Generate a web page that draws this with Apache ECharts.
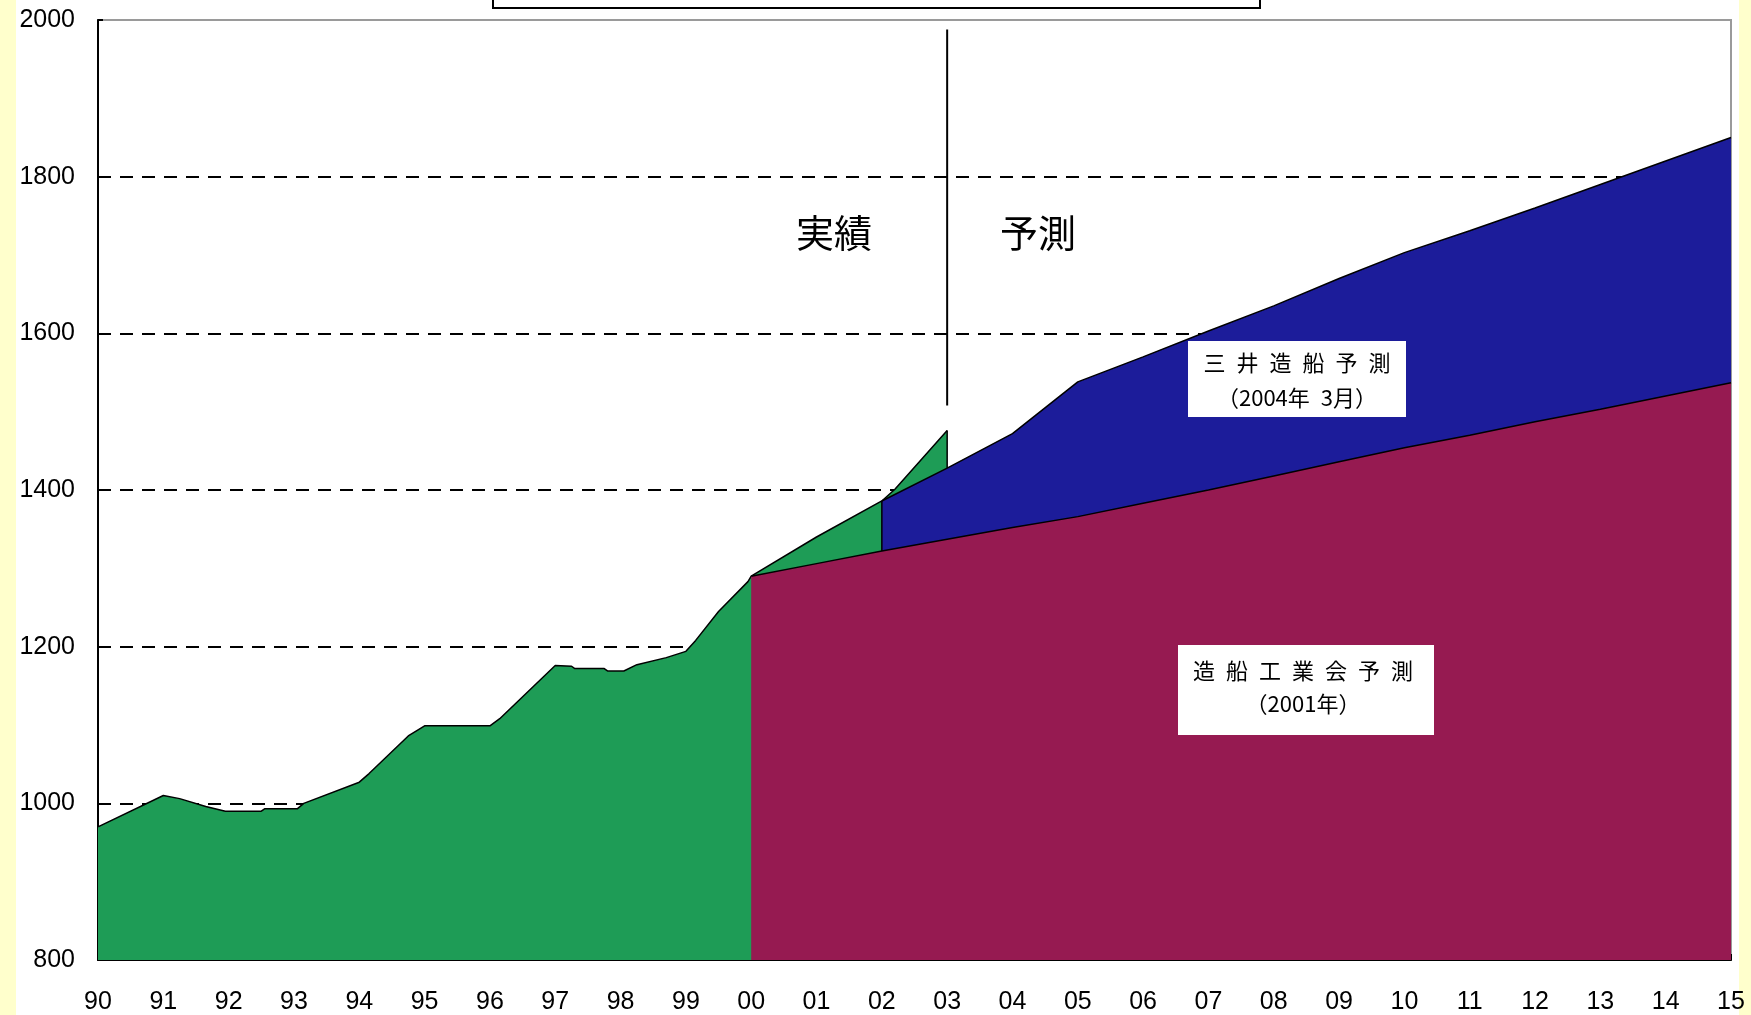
<!DOCTYPE html>
<html>
<head>
<meta charset="utf-8">
<script src="https://cdn.jsdelivr.net/npm/echarts@6/dist/echarts.min.js"></script>
<style>
html,body{margin:0;padding:0;background:#ffffff;}
#main{width:1751px;height:1015px;}
</style>
</head>
<body>
<div id="main"></div>
<script>
// ---- data ----
const yearLabels = ['90','91','92','93','94','95','96','97','98','99','00','01','02','03','04','05','06','07','08','09','10','11','12','13','14','15'];
const yTicks = [800, 1000, 1200, 1400, 1600, 1800, 2000];

// 実績 (actual)
const actualYears  = [1990, 1991, 1991.25, 1991.65, 1991.95, 1992.5, 1992.55, 1993.05, 1993.15, 1994, 1994.15, 1994.75, 1995, 1996, 1996.15, 1997, 1997.25, 1997.3, 1997.75, 1997.8, 1998.05, 1998.25, 1998.7, 1999, 1999.15, 1999.5, 1999.95, 2000, 2001, 2002, 2002.2, 2003];
const actualValues = [970, 1010, 1006, 996, 990, 990, 993, 993, 1000, 1027, 1038, 1086, 1099, 1099, 1108, 1176, 1175, 1172, 1172, 1169, 1169, 1177, 1186, 1194, 1208, 1245, 1283, 1290, 1340, 1386, 1401, 1476];

// 造船工業会予測（2001年）
const sajYears  = [2000, 2001, 2002, 2003, 2004, 2005, 2006, 2007, 2008, 2009, 2010, 2011, 2012, 2013, 2014, 2015];
const sajValues = [1290, 1306, 1322, 1337, 1352, 1366, 1383, 1400, 1418, 1436, 1454, 1470, 1487, 1503, 1520, 1537];

// 三井造船予測（2004年3月）
const mitsuiYears  = [2002, 2003, 2004, 2005, 2006, 2007, 2008, 2009, 2010, 2011, 2012, 2013, 2014, 2015];
const mitsuiValues = [1386, 1428, 1472, 1538, 1570, 1603, 1635, 1670, 1703, 1731, 1760, 1790, 1820, 1850];

// divider between 実績 and 予測
const dividerYear = 2003;
const dividerRange = [1508, 1988];

// ---- build ----
const pairs = (xs, ys) => xs.map((x, i) => [x, ys[i]]);
const valueAt = (xs, ys, x) => ys[xs.indexOf(x)];

const GREEN = '#1e9c56', RED = '#961a51', BLUE = '#1c1c9a';
const cjk = '"Noto Sans CJK JP", "Noto Sans CJK SC", sans-serif';
const numFont = '"Liberation Sans", Arial, sans-serif';
const edgeStyle = {color: '#000', width: 1.5};

const chart = echarts.init(document.getElementById('main'), null, {renderer: 'canvas'});
chart.setOption({
  animation: false,
  backgroundColor: '#ffffff',
  grid: {left: 98, right: 20, top: 20, bottom: 53, show: true, borderColor: '#9a9a9a', borderWidth: 2, backgroundColor: '#ffffff'},
  xAxis: {
    type: 'value', min: 1990, max: 2015, interval: 1,
    axisLine: {show: true, onZero: false, lineStyle: {color: '#000', width: 2}},
    axisTick: {show: true, inside: true, length: 6, lineStyle: {color: '#000', width: 2}},
    axisLabel: {
      color: '#000', fontSize: 25, fontFamily: numFont, margin: 30,
      formatter: v => yearLabels[Math.round(v) - 1990]
    },
    splitLine: {show: false}
  },
  yAxis: {
    type: 'value', min: yTicks[0], max: yTicks[yTicks.length - 1], interval: yTicks[1] - yTicks[0],
    axisLine: {show: true, lineStyle: {color: '#000', width: 2}},
    axisTick: {show: true, inside: true, length: 5, lineStyle: {color: '#000', width: 2}},
    axisLabel: {color: '#000', fontSize: 25, fontFamily: numFont, margin: 23, formatter: v => String(v)},
    splitLine: {show: true, showMinLine: false, showMaxLine: false, lineStyle: {color: '#000', width: 2, type: [13, 9]}}
  },
  series: [
    {
      name: '実績', type: 'line', z: 2, symbol: 'none',
      data: pairs(actualYears, actualValues),
      lineStyle: {color: '#000', width: 1.5},
      areaStyle: {color: GREEN, opacity: 1, origin: 'start'}
    },
    {
      name: '三井造船予測', type: 'line', z: 3, symbol: 'none',
      data: pairs(mitsuiYears, mitsuiValues),
      lineStyle: {color: '#000', width: 1.5},
      areaStyle: {color: BLUE, opacity: 1, origin: 'start'}
    },
    {
      name: '造船工業会予測', type: 'line', z: 4, symbol: 'none',
      data: pairs(sajYears, sajValues),
      lineStyle: {color: '#000', width: 1.5},
      areaStyle: {color: RED, opacity: 1, origin: 'start'}
    },
    {
      name: 'edge-mitsui', type: 'line', z: 5, symbol: 'none', silent: true,
      data: [[mitsuiYears[0], valueAt(sajYears, sajValues, mitsuiYears[0])], [mitsuiYears[0], mitsuiValues[0]]],
      lineStyle: edgeStyle
    },
    {
      name: 'edge-actual', type: 'line', z: 5, symbol: 'none', silent: true,
      data: [[actualYears[actualYears.length - 1], valueAt(mitsuiYears, mitsuiValues, actualYears[actualYears.length - 1])],
             [actualYears[actualYears.length - 1], actualValues[actualValues.length - 1]]],
      lineStyle: edgeStyle
    },
    {
      name: 'divider', type: 'line', z: 5, symbol: 'none', silent: true,
      data: [[dividerYear, dividerRange[0]], [dividerYear, dividerRange[1]]],
      lineStyle: {color: '#000', width: 2}
    }
  ],
  graphic: [
    {type: 'rect', z: -1, shape: {x: 0, y: 0, width: 16, height: 1015}, style: {fill: '#ffffcc'}},
    {type: 'rect', z: -1, shape: {x: 1739, y: 0, width: 12, height: 1015}, style: {fill: '#ffffcc'}},
    {type: 'rect', z: 100, shape: {x: 493, y: -6, width: 767, height: 14}, style: {fill: '#ffffff', stroke: '#000', lineWidth: 2}},
    {type: 'text', z: 100, x: 834, y: 233, style: {text: '実績', font: '38px ' + cjk, fill: '#000', align: 'center', verticalAlign: 'middle'}},
    {type: 'text', z: 100, x: 1038, y: 233, style: {text: '予測', font: '38px ' + cjk, fill: '#000', align: 'center', verticalAlign: 'middle'}},
    {type: 'rect', z: 100, shape: {x: 1188, y: 341, width: 218, height: 76}, style: {fill: '#ffffff'}},
    {type: 'text', z: 101, x: 1297, y: 363, style: {text: '三\u2002井\u2002造\u2002船\u2002予\u2002測', font: '22px ' + cjk, fill: '#000', align: 'center', verticalAlign: 'middle'}},
    {type: 'text', z: 101, x: 1297, y: 398, style: {text: '（2004年\u20023月）', font: '22px ' + cjk, fill: '#000', align: 'center', verticalAlign: 'middle'}},
    {type: 'rect', z: 100, shape: {x: 1178, y: 645, width: 256, height: 90}, style: {fill: '#ffffff'}},
    {type: 'text', z: 101, x: 1303, y: 671, style: {text: '造\u2002船\u2002工\u2002業\u2002会\u2002予\u2002測', font: '22px ' + cjk, fill: '#000', align: 'center', verticalAlign: 'middle'}},
    {type: 'text', z: 101, x: 1303, y: 704, style: {text: '（2001年）', font: '22px ' + cjk, fill: '#000', align: 'center', verticalAlign: 'middle'}}
  ]
});
</script>
</body>
</html>
